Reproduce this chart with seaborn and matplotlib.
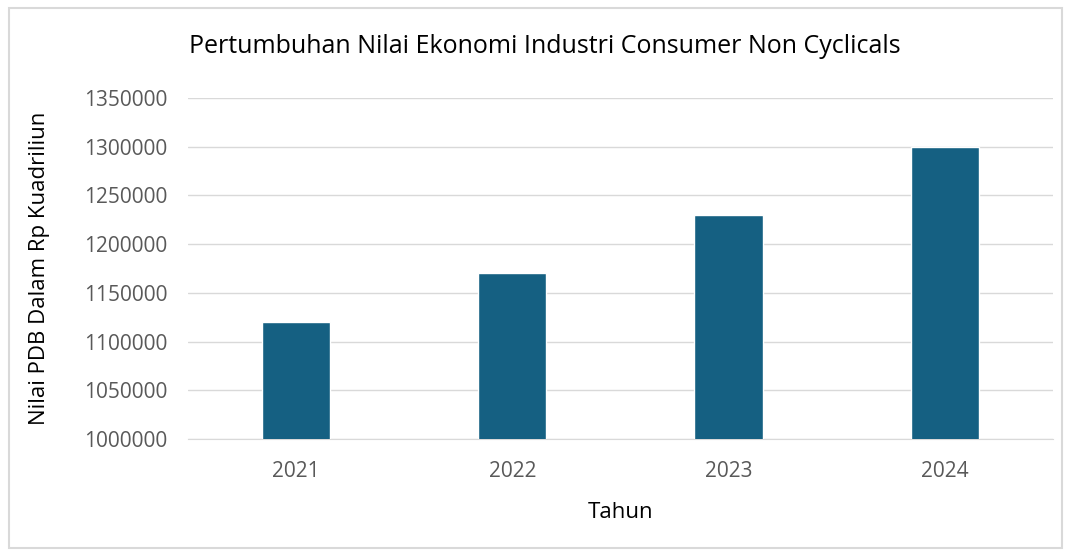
import pandas as pd
import seaborn as sns
import matplotlib.pyplot as plt
from matplotlib.patches import Rectangle
from matplotlib.ticker import StrMethodFormatter

tahun = ['2021', '2022', '2023', '2024']
nilai = [1120000, 1170000, 1230000, 1300000]

sns.set_style('white')
plt.rcParams['font.family'] = ['Open Sans', 'DejaVu Sans']

df = pd.DataFrame({'Tahun': tahun, 'Nilai': nilai})

fig = plt.figure(figsize=(10.71, 5.52), dpi=100)
ax = fig.add_axes([0.1755, 0.2047, 0.8075, 0.6178])

sns.barplot(data=df, x='Tahun', y='Nilai', color='#156082', width=0.315,
            saturation=1, ax=ax, zorder=3)

ax.set_ylim(1000000, 1350000)
ax.set_yticks(range(1000000, 1350001, 50000))
ax.yaxis.set_major_formatter(StrMethodFormatter('{x:.0f}'))
ax.set_xlim(-0.5, 3.5)
ax.grid(axis='y', color='#D9D9D9', linewidth=1, zorder=0)
for s in ['top', 'right', 'left']:
    ax.spines[s].set_visible(False)
ax.spines['bottom'].set_color('#D9D9D9')
ax.tick_params(axis='both', length=0, labelsize=15, colors='#595959')
ax.tick_params(axis='y', pad=15)
ax.tick_params(axis='x', pad=16)

ax.set_xlabel('Tahun', fontsize=16, color='black', labelpad=14)
ax.set_ylabel('Nilai PDB Dalam Rp Kuadriliun', fontsize=16, color='black', labelpad=24)
fig.text(0.509, 0.915, 'Pertumbuhan Nilai Ekonomi Industri Consumer Non Cyclicals',
         ha='center', va='center', fontsize=18, color='black')

fig.patches.append(Rectangle((0.008, 0.008), 0.984, 0.978, transform=fig.transFigure,
                             fill=False, edgecolor='#D9D9D9', linewidth=1.5))

plt.savefig('out.png', dpi=100)
